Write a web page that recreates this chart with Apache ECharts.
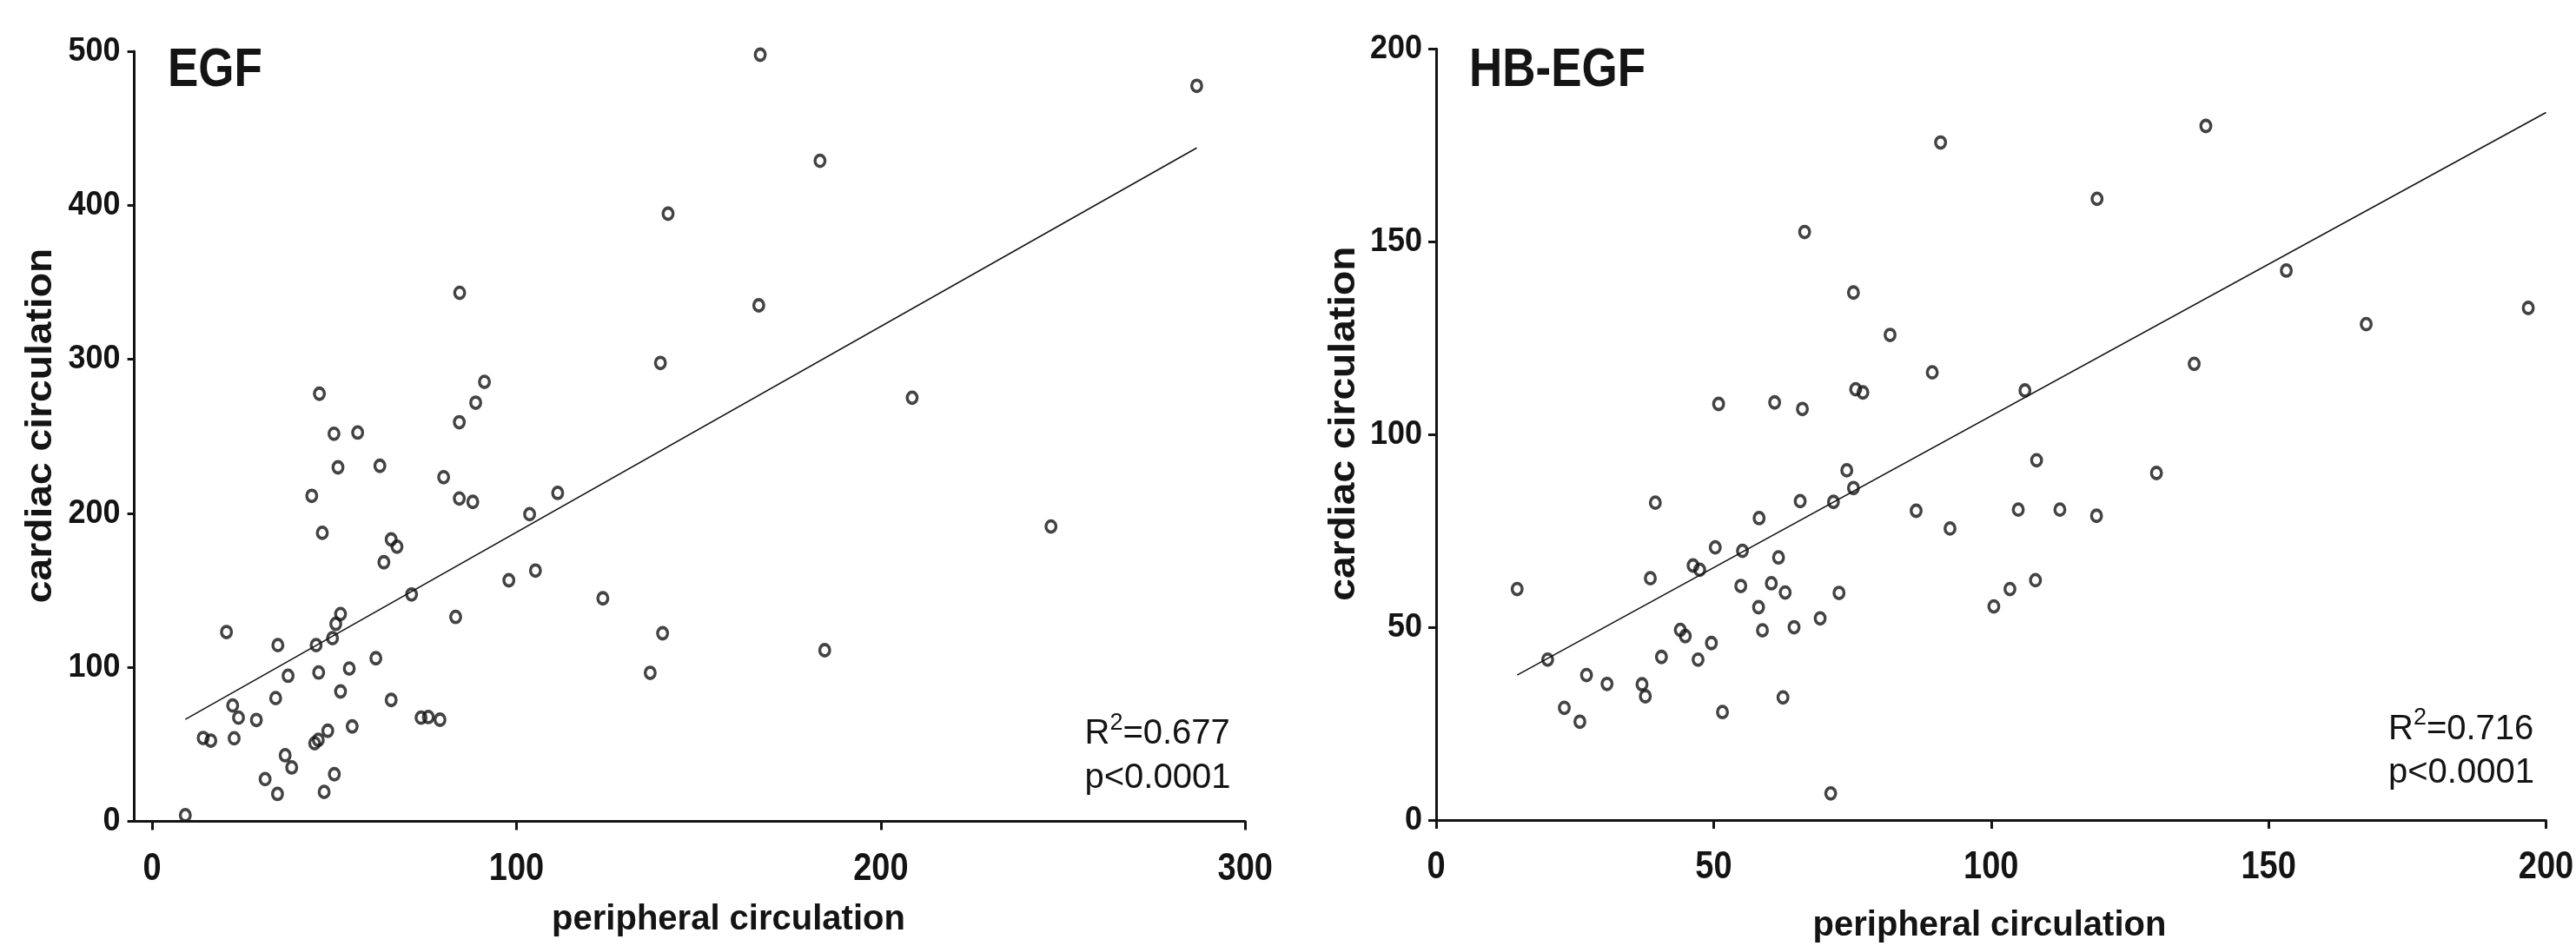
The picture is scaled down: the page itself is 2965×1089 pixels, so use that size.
<!DOCTYPE html>
<html>
<head>
<meta charset="utf-8">
<title>EGF / HB-EGF: cardiac vs peripheral circulation</title>
<script src="https://cdn.jsdelivr.net/npm/echarts@6/dist/echarts.min.js"></script>
<style>
  html, body { margin: 0; padding: 0; background: #fff; }
  #main { width: 2965px; height: 1089px; }
</style>
</head>
<body>
<div id="main"></div>
<script>
// EGF panel: paired measurements (peripheral, cardiac)
const egfPeripheral = [9.1, 14.0, 16.1, 20.4, 22.1, 23.7, 22.5, 28.6, 31.0, 33.9, 34.5, 34.4, 36.5, 37.3, 38.3,
  43.8, 45.0, 45.7, 44.6, 45.6, 46.7, 47.2, 48.2, 49.5, 50.4, 51.7, 50.0, 51.7, 54.1, 54.9, 51.0, 49.9, 56.4, 45.9,
  61.4, 62.5, 63.6, 65.6, 67.2, 65.6, 71.2, 73.8, 75.8, 79.0, 80.0, 83.3, 84.3, 88.0, 84.4, 84.3, 88.8, 91.2,
  97.9, 103.6, 105.2, 111.3, 123.7, 136.7, 140.1, 139.5, 141.6, 166.9, 166.5, 183.3, 184.6, 208.6, 246.7, 286.7];
const egfCardiac = [4.0, 54.1, 52.4, 122.9, 75.2, 67.3, 53.9, 65.8, 27.4, 80.0, 114.4, 17.8, 42.9, 94.5, 35.0,
  211.3, 114.4, 96.6, 50.7, 52.9, 187.3, 19.1, 58.8, 118.9, 128.2, 134.6, 30.6, 84.3, 99.2, 61.6, 229.8, 251.6, 252.4, 277.6,
  105.9, 230.8, 168.2, 183.0, 178.3, 78.8, 147.3, 67.3, 67.7, 66.0, 223.4, 132.7, 209.6, 207.4, 343.1, 259.1, 271.8, 285.3,
  156.5, 199.4, 162.8, 213.2, 144.8, 96.4, 122.1, 297.6, 394.5, 497.7, 335.0, 428.8, 111.1, 275.0, 191.4, 477.5];
// linear fit: [slope, intercept] and the x span it is drawn over
const egfFit = [1.3365, 54.04];
const egfFitRange = [9.1, 286.7];
const egfTicksX = [0, 100, 200, 300];
const egfTicksY = [0, 100, 200, 300, 400, 500];
const egfStats = ['0.677', 'p<0.0001'];

// HB-EGF panel
const hbPeripheral = [14.6, 20.1, 23.1, 25.9, 27.1, 30.8, 37.1, 37.7, 38.6, 39.5, 40.6, 44.0, 44.9, 46.3, 47.5,
  47.2, 49.6, 50.3, 51.6, 54.9, 55.2, 58.1, 58.2, 58.8, 60.4, 61.7, 62.9, 62.5, 64.5, 65.6, 69.2, 71.1, 71.6, 72.6,
  74.0, 75.2, 86.5, 92.6, 50.9, 61.0, 66.0, 66.4, 75.2, 75.6, 76.9, 81.8, 89.4, 90.9, 138.7, 119.1, 153.2, 167.6,
  196.8, 106.1, 136.6, 108.2, 129.8, 104.9, 112.4, 119.0, 100.5, 103.4, 108.0];
const hbCardiac = [59.9, 41.6, 29.1, 25.5, 37.6, 35.3, 35.2, 32.1, 62.7, 82.3, 42.3, 49.3, 47.7, 66.0, 64.9,
  41.6, 45.9, 70.7, 28.0, 60.7, 69.8, 55.2, 78.3, 49.2, 61.4, 68.1, 59.0, 31.8, 50.0, 82.7, 52.3, 6.9, 82.5, 58.9,
  90.7, 86.1, 80.2, 75.6, 107.9, 108.3, 106.6, 152.5, 136.8, 111.7, 110.9, 125.8, 116.1, 175.7, 180.0, 161.1, 142.5, 128.6,
  132.8, 111.4, 118.3, 93.3, 90.0, 80.5, 80.5, 78.9, 55.4, 59.9, 62.2];
const hbFit = [0.7869, 26.11];
const hbFitRange = [14.6, 200];
const hbTicksX = [0, 50, 100, 150, 200];
const hbTicksY = [0, 50, 100, 150, 200];
const hbStats = ['0.716', 'p<0.0001'];

const titles = ['EGF', 'HB-EGF'];
const xTitle = 'peripheral circulation';
const yTitle = 'cardiac circulation';

const INK = '#141414';
const FAMILY = '"Liberation Sans", Arial, Helvetica, sans-serif';

function pairs(xs, ys) { return xs.map((x, i) => [x, ys[i]]); }
function fitLine(fit, range) { return range.map(x => [x, fit[1] + fit[0] * x]); }

// Axis line and ticks come from ECharts; the tick numbers are drawn as
// vertically stretched text (tall, compact digits) at the axis' own pixel positions.
function axis(gridIndex, ticks, min, tickLen) {
  return {
    type: 'value', gridIndex: gridIndex,
    min: min, max: ticks[ticks.length - 1],
    axisLine: { show: true, onZero: false, lineStyle: { color: INK, width: 3 } },
    axisTick: { show: true, customValues: ticks, inside: false, length: tickLen, lineStyle: { color: INK, width: 3 } },
    axisLabel: { show: false, customValues: ticks },
    splitLine: { show: false }
  };
}

const scatterStyle = { color: 'rgba(0,0,0,0)', borderColor: INK, borderWidth: 3.6 };

function label(x, y, text, font, align, extra) {
  return Object.assign({
    type: 'text', x: x, y: y, silent: true,
    style: { text: text, font: font, fill: INK, align: align, verticalAlign: 'middle' }
  }, extra || {});
}

function statText(x, y, r2) {
  return {
    type: 'text', x: x, y: y, silent: true,
    style: {
      text: '{a|R}{s|2}{a|=' + r2 + '}',
      align: 'left', verticalAlign: 'middle', fill: INK,
      rich: {
        a: { fontFamily: FAMILY, fontSize: 40, lineHeight: 46, fill: INK, verticalAlign: 'bottom' },
        s: { fontFamily: FAMILY, fontSize: 27, lineHeight: 34, fill: INK, verticalAlign: 'top' }
      }
    }
  };
}

const option = {
  animation: false,
  backgroundColor: '#ffffff',
  grid: [
    { left: 154.6, top: 58.9, width: 1278.6, height: 886.6 },
    { left: 1653, top: 56.2, width: 1277.5, height: 887.8 }
  ],
  xAxis: [ axis(0, egfTicksX, -4.9, 10), axis(1, hbTicksX, 0, 10) ],
  yAxis: [ axis(0, egfTicksY, 0, 8), axis(1, hbTicksY, 0, 9) ],
  series: [
    { type: 'line', xAxisIndex: 0, yAxisIndex: 0, data: fitLine(egfFit, egfFitRange), symbol: 'none', silent: true,
      lineStyle: { color: INK, width: 1.6 } },
    { type: 'scatter', xAxisIndex: 0, yAxisIndex: 0, data: pairs(egfPeripheral, egfCardiac),
      symbol: 'circle', symbolSize: [11.5, 13], itemStyle: scatterStyle },
    { type: 'line', xAxisIndex: 1, yAxisIndex: 1, data: fitLine(hbFit, hbFitRange), symbol: 'none', silent: true,
      lineStyle: { color: INK, width: 1.6 } },
    { type: 'scatter', xAxisIndex: 1, yAxisIndex: 1, data: pairs(hbPeripheral, hbCardiac),
      symbol: 'circle', symbolSize: [11.5, 13], itemStyle: scatterStyle }
  ]
};

const chart = echarts.init(document.getElementById('main'), null, { renderer: 'canvas' });
chart.setOption(option);

const graphics = [
  // panel titles
  label(193, 81.6, titles[0], 'bold 53px ' + FAMILY, 'left', { scaleY: 1.19 }),
  label(1691, 81.6, titles[1], 'bold 53px ' + FAMILY, 'left', { scaleY: 1.19 }),
  // axis titles
  label(838.5, 1059, xTitle, 'bold 40px ' + FAMILY, 'center'),
  label(2290, 1066, xTitle, 'bold 40px ' + FAMILY, 'center'),
  label(47, 490, yTitle, 'bold 42px ' + FAMILY, 'center', { rotation: Math.PI / 2, scaleX: 1.1 }),
  label(1547, 487.6, yTitle, 'bold 42px ' + FAMILY, 'center', { rotation: Math.PI / 2, scaleX: 1.1 }),
  // fit statistics
  statText(1248.5, 842, egfStats[0]),
  label(1248.5, 896, egfStats[1], '40px ' + FAMILY, 'left'),
  statText(2749, 836.5, hbStats[0]),
  label(2749, 889.5, hbStats[1], '40px ' + FAMILY, 'left')
];

// tick numbers placed through each axis' scale
const panels = [
  { ticksX: egfTicksX, ticksY: egfTicksY },
  { ticksX: hbTicksX, ticksY: hbTicksY }
];
panels.forEach((p, i) => {
  const rect = chart.getModel().getComponent('grid', i).coordinateSystem.getRect();
  p.ticksX.forEach(v => {
    const px = chart.convertToPixel({ xAxisIndex: i }, v);
    graphics.push(label(px, rect.y + rect.height + 55, String(v), 'bold 38px ' + FAMILY, 'center', { scaleY: 1.18 }));
  });
  p.ticksY.forEach(v => {
    const py = chart.convertToPixel({ yAxisIndex: i }, v);
    graphics.push(label(rect.x - 16, py, String(v), 'bold 36px ' + FAMILY, 'right', { scaleY: 1.1 }));
  });
});

chart.setOption({ graphic: graphics });
</script>
</body>
</html>
